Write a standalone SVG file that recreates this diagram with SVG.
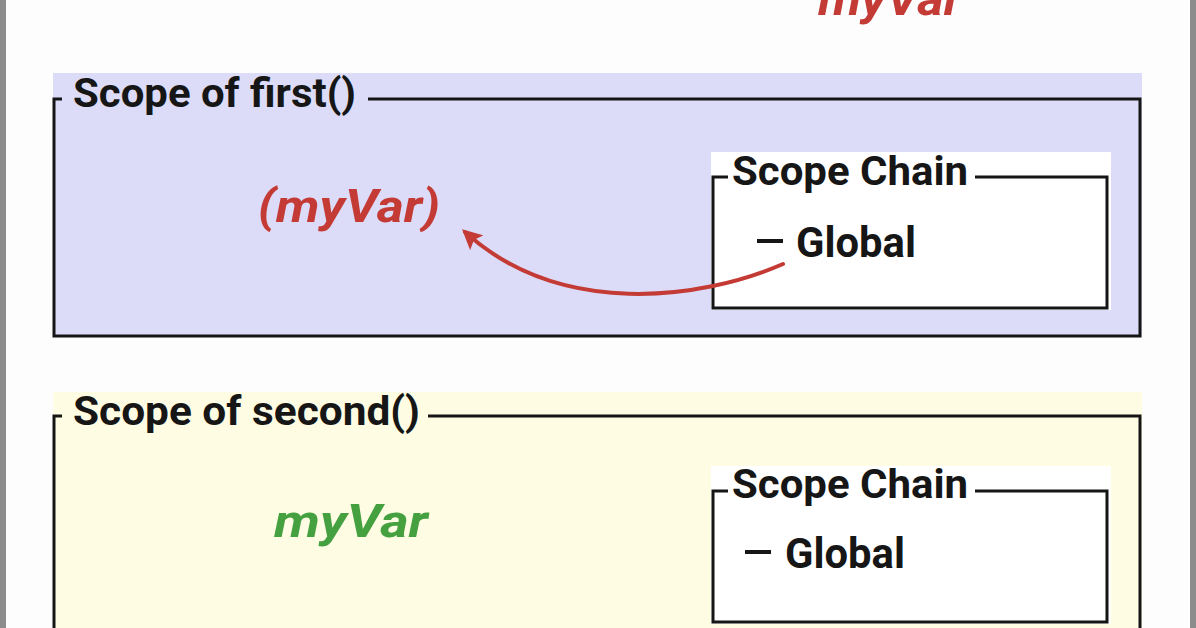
<svg xmlns="http://www.w3.org/2000/svg" width="1196" height="628" viewBox="0 0 1196 628">
  <defs>
    <style>
      .frame { fill: none; stroke: #151515; stroke-width: 3; }
      .title { font-family: Roboto, "Liberation Sans", sans-serif; font-weight: bold; fill: #161616; font-size: 40px; }
      .item { font-family: Roboto, "Liberation Sans", sans-serif; font-weight: bold; fill: #161616; font-size: 42px; }
      .var { font-family: Roboto, "Liberation Sans", sans-serif; font-weight: bold; font-style: italic; font-size: 46px; }
      .red { fill: #c43b36; }
      .green { fill: #45a040; }
      .arrow { fill: none; stroke: #c43b36; stroke-width: 4; stroke-linecap: round; }
    </style>
    <marker id="ah" viewBox="0 0 10 10" refX="8" refY="5" markerWidth="5" markerHeight="5" orient="auto" markerUnits="strokeWidth">
      <path d="M0,0 L10,5 L0,10 L2,5 Z" fill="#c43b36"/>
    </marker>
  </defs>

  <rect x="0" y="0" width="1196" height="628" fill="#fdfdfd"/>
  <rect x="0" y="0" width="6" height="628" fill="#8c8c8c"/>
  <rect x="1190" y="0" width="6" height="628" fill="#8c8c8c"/>

  <g id="global-var">
    <text class="var red" x="818" y="15" font-size="48" textLength="144" lengthAdjust="spacingAndGlyphs">myVar</text>
  </g>

  <g id="scope-first">
    <rect x="53" y="73" width="1089" height="264" fill="#dcdcf8"/>
    <path class="frame" d="M62,99 H54 V336 H1140 V99 H368"/>
    <text class="title" x="73" y="107" textLength="283" lengthAdjust="spacingAndGlyphs">Scope of first()</text>
    <text class="var red" x="258" y="222" textLength="182" lengthAdjust="spacingAndGlyphs">(myVar)</text>
  </g>

  <g id="chain-first">
    <rect x="711" y="152" width="400" height="158" fill="#ffffff"/>
    <path class="frame" d="M728,177 H713 V308 H1107 V177 H975"/>
    <text class="title" x="732" y="185" textLength="236" lengthAdjust="spacingAndGlyphs">Scope Chain</text>
    <line x1="757" y1="241" x2="783" y2="241" stroke="#161616" stroke-width="4"/>
    <text class="item" x="796" y="257" textLength="120" lengthAdjust="spacingAndGlyphs">Global</text>
  </g>

  <g id="scope-second">
    <rect x="53" y="392" width="1089" height="236" fill="#fefde3"/>
    <path class="frame" d="M62,416 H54 V630 M1140,630 V416 H428"/>
    <text class="title" x="73" y="425" textLength="347" lengthAdjust="spacingAndGlyphs">Scope of second()</text>
    <text class="var green" x="274" y="537" textLength="154" lengthAdjust="spacingAndGlyphs">myVar</text>
  </g>

  <g id="chain-second">
    <rect x="711" y="466" width="400" height="158" fill="#ffffff"/>
    <path class="frame" d="M728,491 H713 V622 H1107 V491 H975"/>
    <text class="title" x="732" y="498" textLength="236" lengthAdjust="spacingAndGlyphs">Scope Chain</text>
    <line x1="745" y1="552" x2="771" y2="552" stroke="#161616" stroke-width="4"/>
    <text class="item" x="785" y="568" textLength="120" lengthAdjust="spacingAndGlyphs">Global</text>
  </g>

  <g id="connectors">
    <path class="arrow" d="M783,264 C700,300 560,318 465,232" marker-end="url(#ah)"/>
  </g>
</svg>
